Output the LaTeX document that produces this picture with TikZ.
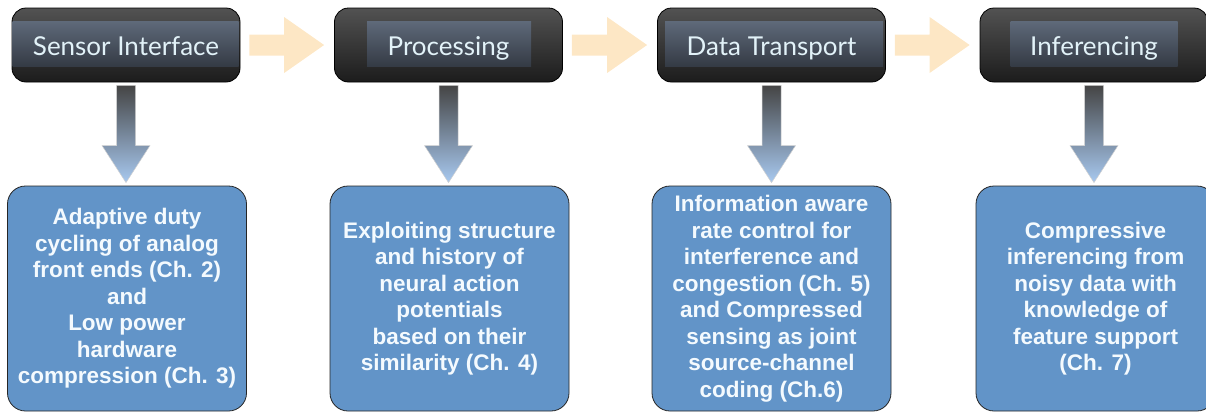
\documentclass[tikz,border=0pt]{standalone}
\usepackage{fontspec}
\setmainfont{Liberation Sans}
\newfontfamily\toplabelfont{Lato}
\usetikzlibrary{calc}
\definecolor{peach}{HTML}{FDE7C5}
\definecolor{boxblue}{HTML}{6294C8}
\definecolor{labeltxt}{HTML}{E2F2F8}
\definecolor{bodytxt}{HTML}{F4FAFE}
\definecolor{topA}{HTML}{525252}
\definecolor{topB}{HTML}{1C1C1C}
\definecolor{bandA}{HTML}{5E6979}
\definecolor{bandB}{HTML}{343A44}
\definecolor{arrA}{HTML}{454545}
\definecolor{arrM}{HTML}{6C7380}
\definecolor{arrB}{HTML}{A8C9F0}
\newcommand\PeachArrow[2]{%
  \fill[peach] let \p1=($(#1.east)+(9,0)$), \p2=($(#2.west)+(-10,0)$) in
    (\x1,\y1+10.5pt) -- (\x2-40pt,\y1+10.5pt) -- (\x2-40pt,\y1+28pt) -- (\x2,\y1)
    -- (\x2-40pt,\y1-28pt) -- (\x2-40pt,\y1-10.5pt) -- (\x1,\y1-10.5pt) -- cycle;}
\newcommand\DownShadedArrow[2]{%
  \shade[top color=arrA, middle color=arrM, bottom color=arrB, draw=black!18, line width=0.5pt]
    let \p1=($(#1.south)+(0,3)$), \p2=($(#2.north)+(0,-3)$) in
    (\x1-9.5pt,\y1) -- (\x1+9.5pt,\y1) -- (\x1+9.5pt,\y2+37pt) -- (\x1+24pt,\y2+37pt)
    -- (\x1,\y2) -- (\x1-24pt,\y2+37pt) -- (\x1-9.5pt,\y2+37pt) -- cycle;}
\begin{document}
\begin{tikzpicture}[x=1pt,y=-1pt,
  topbox/.style={rounded corners=14pt, draw=black, line width=0.8pt,
    top color=topA, bottom color=topB, minimum width=228pt, minimum height=74pt, inner sep=0pt},
  toplabel/.style={text=labeltxt, font=\toplabelfont\fontsize{26}{30}\selectfont, anchor=base, inner sep=0pt},
  botbox/.style={rounded corners=18pt, draw=black!85, line width=0.8pt, fill=boxblue,
    minimum width=239pt, minimum height=225pt, inner sep=0pt, align=center, text=bodytxt,
    font=\bfseries\fontsize{22.5}{26.5}\selectfont},
  band/.style={top color=bandA, bottom color=bandB}
]
\useasboundingbox (0,0) rectangle (1206,413);
% top boxes
\node[topbox] (t1) at (126,45) {};
\node[topbox] (t2) at (448.5,45) {};
\node[topbox] (t3) at (771.5,45) {};
\node[topbox] (t4) at (1094,45) {};
% inner bands
\shade[band] ($(t1.north west)+(1,14)$) rectangle ($(t1.north west)+(227,59)$);
\shade[band] ($(t2.north west)+(33,14)$) rectangle ($(t2.north west)+(197,59)$);
\shade[band] ($(t3.north west)+(8,14)$) rectangle ($(t3.north west)+(226,59)$);
\shade[band] ($(t4.north west)+(31,14)$) rectangle ($(t4.north west)+(198,59)$);
% labels
\node[toplabel] (l1) at ($(t1.center)+(0,10)$) {Sensor Interface};
\node[toplabel] (l2) at ($(t2.center)+(0,10)$) {Processing};
\node[toplabel] (l3) at ($(t3.center)+(0,10)$) {Data Transport};
\node[toplabel] (l4) at ($(t4.center)+(0,10)$) {Inferencing};
% bottom boxes
\node[botbox] (b1) at (127,298.5) {Adaptive duty\\cycling of analog\\front ends (Ch. 2)\\and\\Low power\\hardware\\compression (Ch. 3)};
\node[botbox] (b2) at (449.5,298.5) {Exploiting structure\\and history of\\neural action\\potentials\\based on their\\similarity (Ch. 4)};
\node[botbox] (b3) at (771.5,298.5) {Information aware\\rate control for\\interference and\\congestion (Ch. 5)\\and Compressed\\sensing as joint\\source-channel\\coding (Ch.6)};
\node[botbox] (b4) at (1095.5,298.5) {Compressive\\inferencing from\\noisy data with\\knowledge of\\feature support\\(Ch. 7)};
% arrows
\PeachArrow{t1}{t2}
\PeachArrow{t2}{t3}
\PeachArrow{t3}{t4}
\DownShadedArrow{t1}{b1}
\DownShadedArrow{t2}{b2}
\DownShadedArrow{t3}{b3}
\DownShadedArrow{t4}{b4}
\end{tikzpicture}
\end{document}
